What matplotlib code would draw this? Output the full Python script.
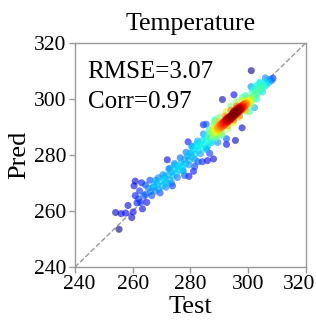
import matplotlib.pyplot as plt
import matplotlib.colors as mcolors
import matplotlib.transforms as mtransforms
import numpy as np

outlier_test = [255.3, 254.1, 256.0, 257.6, 259.7, 260.2, 258.4, 261.5, 262.8, 263.4,
                262.0, 260.9, 264.9, 263.9, 266.6, 262.4, 260.5, 260.9, 263.1, 264.4,
                266.0, 267.4, 268.3, 268.9, 271.7, 273.8, 271.1, 272.0, 272.9, 274.6,
                276.1, 277.5, 278.0, 279.5, 281.1, 281.5, 279.8, 279.2, 280.6, 282.1,
                283.4, 282.6, 284.1, 285.9, 288.0, 285.5, 286.7, 284.5, 285.5, 288.2,
                288.5, 291.1, 295.1, 299.0, 301.1, 301.0, 292.5, 292.5, 295.6, 297.9,
                300.5, 302.2]
outlier_pred = [253.5, 259.5, 259.1, 259.3, 257.7, 259.7, 262.0, 262.9, 263.1, 260.8,
                264.3, 265.5, 263.1, 265.5, 265.5, 267.2, 269.0, 270.7, 270.1, 269.3,
                271.0, 269.0, 270.3, 271.9, 269.9, 269.0, 272.4, 278.3, 275.3, 276.5,
                275.9, 274.2, 272.7, 272.4, 274.2, 275.9, 280.6, 284.7, 283.1, 283.8,
                283.5, 277.6, 277.6, 278.0, 278.6, 282.0, 280.6, 290.8, 291.0, 291.3,
                292.6, 299.8, 301.5, 301.2, 310.1, 304.4, 283.8, 285.8, 285.2, 289.7,
                295.5, 296.9]

band_test = [264.5, 265.5, 266.2, 267.0, 267.8, 268.5, 269.0, 269.8, 270.3, 271.0,
             271.6, 272.2, 272.8, 273.4, 274.0, 274.5, 275.1, 275.7, 276.2, 276.8,
             277.3, 277.9, 278.4, 279.0, 279.5, 280.1, 280.6, 281.2, 281.7, 282.3,
             282.8, 283.3, 283.8, 284.3, 284.8, 285.3, 285.8, 286.3, 286.8,
             286.0, 287.0, 289.0, 290.5, 288.5, 290.0, 292.5, 294.0, 291.0, 293.0,
             295.0, 297.0, 299.5, 296.0, 298.0, 289.5,
             268.0, 269.5, 270.5, 271.5, 272.5, 273.5, 274.5, 275.5, 276.5, 277.5,
             278.5, 279.5, 280.5, 281.5, 282.5, 283.5, 284.5, 285.5, 286.5, 287.5,
             288.0, 289.0, 290.0, 291.0, 292.0, 293.0, 294.0, 295.0, 296.0, 297.0,
             298.0, 299.0, 300.0, 301.0, 302.0, 303.0, 304.0, 305.0, 306.0]
band_pred = [266.0, 268.2, 266.9, 268.5, 267.1, 269.4, 267.8, 270.6, 268.9, 271.5,
             270.2, 272.8, 271.1, 273.9, 272.4, 274.8, 273.5, 276.0, 274.6, 277.2,
             275.8, 278.4, 276.9, 279.6, 278.1, 280.7, 279.3, 281.9, 280.4, 283.0,
             281.5, 284.2, 282.7, 285.3, 283.9, 286.4, 285.0, 287.5, 286.1,
             283.0, 284.5, 286.0, 287.5, 292.0, 293.5, 295.5, 297.5, 287.0, 289.5,
             291.5, 293.5, 295.5, 299.0, 300.5, 284.5,
             271.0, 266.5, 273.0, 268.5, 275.0, 270.0, 277.0, 272.0, 279.0, 274.5,
             281.0, 276.5, 283.0, 278.5, 285.0, 280.5, 287.5, 282.5, 289.0, 284.5,
             290.0, 286.5, 292.0, 288.0, 294.0, 290.5, 296.0, 292.5, 297.5, 294.0,
             299.5, 296.0, 301.0, 298.0, 303.5, 300.0, 305.5, 302.5, 307.5]

core_test = [287.2, 287.5, 287.8, 288.0, 288.3, 288.5, 288.7, 289.0, 289.2, 289.4,
             289.6, 289.8, 290.0, 290.2, 290.4, 290.6, 290.8, 291.0, 291.2, 291.4,
             291.6, 291.8, 292.0, 292.2, 292.4, 292.6, 292.8, 293.0, 293.2, 293.4,
             293.6, 293.8, 294.0, 294.2, 294.4, 294.6, 294.8, 295.0, 295.2, 295.4,
             295.6, 295.8, 296.0, 296.2, 296.4, 296.6, 296.8, 297.0, 297.2, 297.4,
             297.6, 297.8, 298.0, 298.2, 298.4, 298.6, 298.8, 299.0, 299.2, 299.4,
             299.6, 299.8, 300.0, 300.3, 300.6, 300.9, 301.2, 301.5,
             293.1, 293.5, 294.1, 294.5, 295.1, 295.5, 295.9, 296.3, 296.7, 297.1,
             294.3, 292.9, 293.9, 295.3, 296.9, 297.5, 292.3, 291.7, 298.3, 291.1,
             289.5, 290.5, 291.5, 292.5, 293.3, 294.7, 295.7, 296.5, 297.3, 298.1,
             299.1, 300.1, 290.9, 292.7, 294.9, 296.1]
core_pred = [287.9, 286.4, 288.6, 287.1, 289.0, 287.6, 288.3, 289.6, 288.0, 289.1,
             290.2, 288.7, 289.6, 290.8, 289.3, 290.3, 291.3, 289.9, 290.8, 291.8,
             290.5, 291.3, 292.3, 291.0, 291.9, 292.8, 291.6, 292.5, 293.4, 292.1,
             293.0, 293.9, 292.7, 293.6, 294.5, 293.3, 294.1, 295.0, 293.8, 294.7,
             295.5, 294.4, 295.2, 296.1, 294.9, 295.8, 296.6, 295.5, 296.3, 297.1,
             296.0, 296.9, 297.6, 296.6, 297.4, 298.2, 297.1, 297.9, 298.7, 297.7,
             298.5, 299.2, 298.2, 299.1, 299.8, 298.9, 300.3, 299.6,
             292.9, 293.6, 294.0, 294.3, 294.6, 295.2, 295.6, 295.7, 296.2, 296.8,
             293.1, 292.2, 293.4, 295.8, 297.0, 297.6, 292.7, 291.7, 298.0, 291.3,
             289.9, 290.7, 291.1, 292.4, 293.2, 294.9, 295.0, 296.4, 296.5, 297.3,
             298.4, 299.5, 290.1, 293.3, 295.5, 296.7]

upper_test = [301.8, 302.1, 302.4, 302.8, 303.1, 303.5, 303.8, 304.2, 304.5, 304.9,
              305.2, 305.6, 306.0, 306.4, 306.8, 307.2, 307.6, 308.2, 308.6, 302.6,
              303.5, 304.2, 301.5]
upper_pred = [301.2, 300.4, 302.0, 301.3, 302.8, 302.1, 303.6, 302.9, 304.3, 303.6,
              305.1, 304.4, 305.8, 305.0, 306.5, 305.8, 307.0, 306.6, 307.4, 304.6,
              305.0, 306.0, 303.0]

RMSE = 3.07
CORR = 0.97


def density(x, y, bw=2.0):
    # plain gaussian kde, used only for the colour of each point
    dx = x[:, None] - x[None, :]
    dy = y[:, None] - y[None, :]
    return np.exp(-(dx ** 2 + dy ** 2) / (2 * bw ** 2)).sum(axis=1)


def main():
    plt.rcParams["font.family"] = ["Liberation Serif", "DejaVu Serif"]

    x = np.array(outlier_test + band_test + core_test + upper_test)
    y = np.array(outlier_pred + band_pred + core_pred + upper_pred)
    z = density(x, y)
    order = np.argsort(z)
    x, y, z = x[order], y[order], z[order]

    fig = plt.figure(figsize=(3.16, 3.25), dpi=100)
    ax = fig.add_axes([0.237, 0.178, 0.731, 0.69])

    ax.plot([240, 320], [240, 320], ls="--", color="#999999", lw=1.0, zorder=1)
    ax.scatter(x, y, c=z, cmap="jet", norm=mcolors.PowerNorm(0.8),
               s=26, alpha=0.6, linewidths=0, zorder=2)

    ax.set_xlim(240, 320)
    ax.set_ylim(240, 320)
    ax.set_xticks([240, 260, 280, 300, 320])
    ax.set_yticks([240, 260, 280, 300, 320])

    for sp in ax.spines.values():
        sp.set_color("#999999")
        sp.set_linewidth(1.0)
    ax.tick_params(direction="out", length=4, width=1, color="#999999",
                   labelsize=15.5, pad=2)

    # outer x labels sit a little inwards, as in the reference
    xl = ax.get_xticklabels()
    xl[0].set_transform(xl[0].get_transform()
                        + mtransforms.ScaledTranslation(3 / 72, 0, fig.dpi_scale_trans))
    xl[-1].set_transform(xl[-1].get_transform()
                         + mtransforms.ScaledTranslation(-5 / 72, 0, fig.dpi_scale_trans))

    ax.set_title("Temperature", fontsize=18.5, pad=9)
    ax.set_xlabel("Test", fontsize=19, labelpad=1)
    ax.set_ylabel("Pred", fontsize=19, labelpad=3)

    ax.text(0.055, 0.845, f"RMSE={RMSE:.2f}", transform=ax.transAxes,
            fontsize=18, va="baseline")
    ax.text(0.055, 0.71, f"Corr={CORR:.2f}", transform=ax.transAxes,
            fontsize=18, va="baseline")

    fig.savefig("out.png", dpi=100)
    plt.close(fig)


if __name__ == "__main__":
    main()
